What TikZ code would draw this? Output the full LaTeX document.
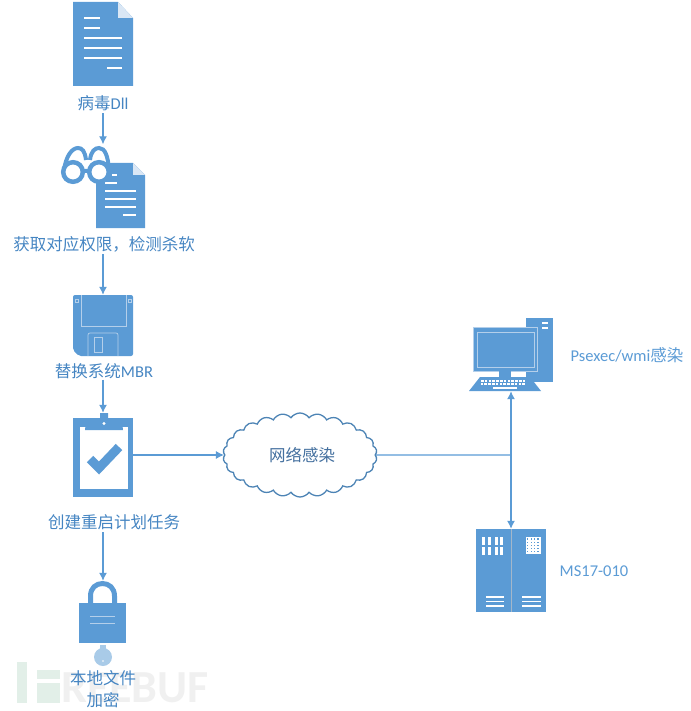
\documentclass[tikz,border=0pt]{standalone}
\usepackage{fontspec}
\setmainfont{Carlito}
\newfontfamily\cjk{Noto Sans CJK SC}
\usetikzlibrary{arrows.meta,shapes.symbols}
\definecolor{iconblue}{HTML}{5B9BD5}
\definecolor{iconline}{HTML}{B4CFEA}
\definecolor{labelblue}{HTML}{4585C2}
\definecolor{clouddark}{HTML}{44709F}
\definecolor{keylight}{HTML}{A9CBE8}
\definecolor{markgreen}{HTML}{E2EFE8}
\definecolor{markgrey}{HTML}{F0F0F0}
\tikzset{
    flow/.style={draw=iconblue, line width=1.2pt, -{Latex[length=8pt,width=8pt]}},
    wire/.style={draw=iconblue, line width=1.2pt},
    lbl/.style={text=labelblue, inner sep=0pt, minimum height=20pt, font=\fontsize{16.5}{22}\selectfont},
    whiteline/.style={draw=white, line width=1.2pt},
    thinline/.style={draw=iconline, line width=0.7pt}
}
\begin{document}
\begin{tikzpicture}[x=1pt, y=-1pt]
    \useasboundingbox (0,0) rectangle (690,711);
    % 水印
    \fill[markgreen] (17,662) rectangle (27,703);
    \fill[markgreen] (37,670) rectangle (60,679);
    \fill[markgreen] (37,683) rectangle (60,703);
    \node (mark) at (135,687.5) [inner sep=0pt, text=markgrey, font=\fontsize{46}{46}\selectfont\bfseries] {REEBUF};
    % 文档1
    \fill[iconblue] (73,2) -- (118,2) -- (133,18) -- (133,86) -- (73,86) -- cycle;
    \fill[iconline!50!white] (118,2) -- (133,18) -- (118,18) -- cycle;
    \foreach \y in {18,28} {
        \draw[whiteline] (84,\y) -- (100,\y);
    }
    \foreach \y in {38,48,58} {
        \draw[whiteline] (84,\y) -- (122,\y);
    }
    \draw[whiteline] (107,68) -- (122,68);
    \node (virusLbl) at (103,103) [lbl] {{\cjk 病毒}Dll};
    % 文档2
    \fill[iconblue] (96,163) -- (133,163) -- (145,175) -- (145,228) -- (96,228) -- cycle;
    \fill[iconline!50!white] (133,163) -- (145,175) -- (133,175) -- cycle;
    \draw[whiteline] (112,175) -- (117,175);
    \draw[whiteline] (105,183) -- (117,183);
    \foreach \y in {191,199,207} {
        \draw[whiteline] (105,\y) -- (136,\y);
    }
    \draw[whiteline] (123,215) -- (136,215);
    \node (checkLbl) at (104,244) [lbl] {\cjk 获取对应权限，检测杀软};
    % 眼镜
    \node (glassIcon) at (103,186) [inner sep=0pt, minimum width=80pt, minimum height=83pt] {};
    \draw[iconblue, line width=4pt]
        (64,170) .. controls (66,156) and (72,148) .. (78,148) .. controls (82,148) and (85,151) .. (86,160)
        (90,160) .. controls (91,151) and (95,148) .. (99,148) .. controls (105,148) and (108,156) .. (109,170)
        (84,171) -- (89,171);
    \foreach \x in {73,99} {
        \draw[iconblue, line width=4.5pt, fill=white] (\x,172) circle (9.8);
    }
    % 软盘
    \node (diskIcon) at (103,325.5) [inner sep=0pt, minimum width=60pt, minimum height=61pt] {};
    \fill[iconblue, rounded corners=2pt] (73,295) -- (133,295) -- (133,356) -- (79,356) -- (73,350) -- cycle;
    \draw[thinline] (81,295) -- (81,326) -- (126,326) -- (126,295);
    \draw[thinline, rounded corners=2pt] (88,356) -- (88,333) -- (118,333) -- (118,356);
    \draw[thinline] (94,337) rectangle (102,352);
    \foreach \x in {77,130} {
        \draw[thinline] (\x-1.5,299.5) rectangle (\x+1.5,302.5);
    }
    \node (mbrLbl) at (104,371) [lbl, minimum height=17pt] {{\cjk 替换系统}MBR};
    % 剪贴板
    \node (taskIcon) at (103,455.5) [inner sep=0pt, minimum width=60pt, minimum height=85pt] {};
    \fill[iconblue] (73,418) rectangle (133,497);
    \fill[white] (80,427) rectangle (128,489);
    \fill[iconblue] (100,413) -- (108,413) -- (108,418) .. controls (116,418.5) and (123,422) .. (123,430)
        -- (85,430) .. controls (85,422) and (92,418.5) .. (100,418) -- cycle;
    \fill[white] (104,423.5) circle (1.6);
    \draw[iconblue, line width=9pt] (90,459) -- (99,468) -- (119,447);
    \node (taskLbl) at (114,522) [lbl] {\cjk 创建重启计划任务};
    % 锁
    \node (lockIcon) at (103,612) [inner sep=0pt, minimum width=48pt, minimum height=62pt] {};
    \draw[iconblue, line width=5pt] (90.5,605) -- (90.5,596) .. controls (90.5,588) and (96,583.5) .. (102.5,583.5)
        .. controls (109,583.5) and (114.5,588) .. (114.5,596) -- (114.5,605);
    \fill[iconblue] (79,603) rectangle (126,643);
    \foreach \y in {616,623} {
        \draw[thinline] (90,\y) -- (115,\y);
    }
    \fill[keylight] (100,645) rectangle (106,650);
    \fill[keylight] (103,657) circle (9);
    \fill[white] (103,661) circle (0.8);
    \node (fileLbl) at (103,689) [lbl, align=center] {\cjk 本地文件\\\cjk 加密};
    % 云
    \node (cloudNode) at (300,455) [cloud, cloud puffs=26, cloud puff arc=110, aspect=1.9, draw=iconblue!85!black, line width=1.3pt, fill=white, inner sep=0pt, minimum width=154pt, minimum height=84pt] {};
    \node (netLbl) at (302,455) [lbl, text=clouddark] {\cjk 网络感染};
    % 电脑
    \fill[iconblue] (526,318) rectangle (553,382);
    \foreach \y in {323,328} {
        \draw[whiteline, line width=1.3pt] (542,\y) -- (548,\y);
    }
    \fill[iconblue, draw=iconline] (473,327) rectangle (537,371);
    \draw[iconline, line width=0.7pt] (477,332) rectangle (534,367);
    \fill[iconblue] (499,371) rectangle (511,377);
    \fill[iconblue] (480,377) -- (530,377) -- (541,391) -- (469,391) -- cycle;
    \foreach \x in {0,...,11} {
        \foreach \y in {0,1} {
            \fill[white] (481+\x*3.8+\y*-0.5,379.5+\y*3.2) rectangle ++(2.6,2);
        }
    }
    \fill[white] (493,386.5) rectangle (517,388.5);
    \node (pcIcon) at (511,354.5) [inner sep=0pt, minimum width=84pt, minimum height=73pt] {};
    \node (pcLbl) at (627,355) [lbl, text=iconblue] {Psexec/wmi{\cjk 感染}};
    % 服务器
    \node (srvIcon) at (511,570.5) [inner sep=0pt, minimum width=70pt, minimum height=83pt] {};
    \fill[iconblue] (476,529) rectangle (546,612);
    \draw[iconline!70!gray, line width=0.8pt] (511,529) -- (511,612);
    \foreach \x in {482,488,495,500} {
        \foreach \y in {537,547} {
            \fill[white] (\x,\y) rectangle ++(3,7.5);
        }
    }
    \fill[white] (526,537) rectangle (541,554);
    \foreach \x in {0,...,3} {
        \foreach \y in {0,...,4} {
            \fill[iconblue] (527.2+\x*3.4,538.4+\y*3.2) rectangle ++(1.2,1.2);
        }
    }
    \foreach \y in {597,601.5,606} {
        \draw[whiteline] (486,\y) -- (504,\y);
        \draw[whiteline] (522,\y) -- (541,\y);
    }
    \node (srvLbl) at (594,571) [lbl, text=iconblue] {MS17-010};
    % 连线
    \coordinate (branch) at (511,455);
    \draw[flow] (virusLbl.south) -- (virusLbl.south |- glassIcon.north);
    \draw[flow] (diskIcon.north |- checkLbl.south) -- (diskIcon.north);
    \draw[flow] (taskIcon.north |- mbrLbl.south) -- (taskIcon.north);
    \draw[flow] (lockIcon.north |- taskLbl.south) -- (lockIcon.north);
    \draw[flow] (taskIcon.east |- cloudNode.west) -- (cloudNode.west);
    \draw[wire] (cloudNode.east) -- (branch);
    \draw[flow] (branch) -- (pcIcon.south);
    \draw[flow] (branch) -- (srvIcon.north);
\end{tikzpicture}
\end{document}
